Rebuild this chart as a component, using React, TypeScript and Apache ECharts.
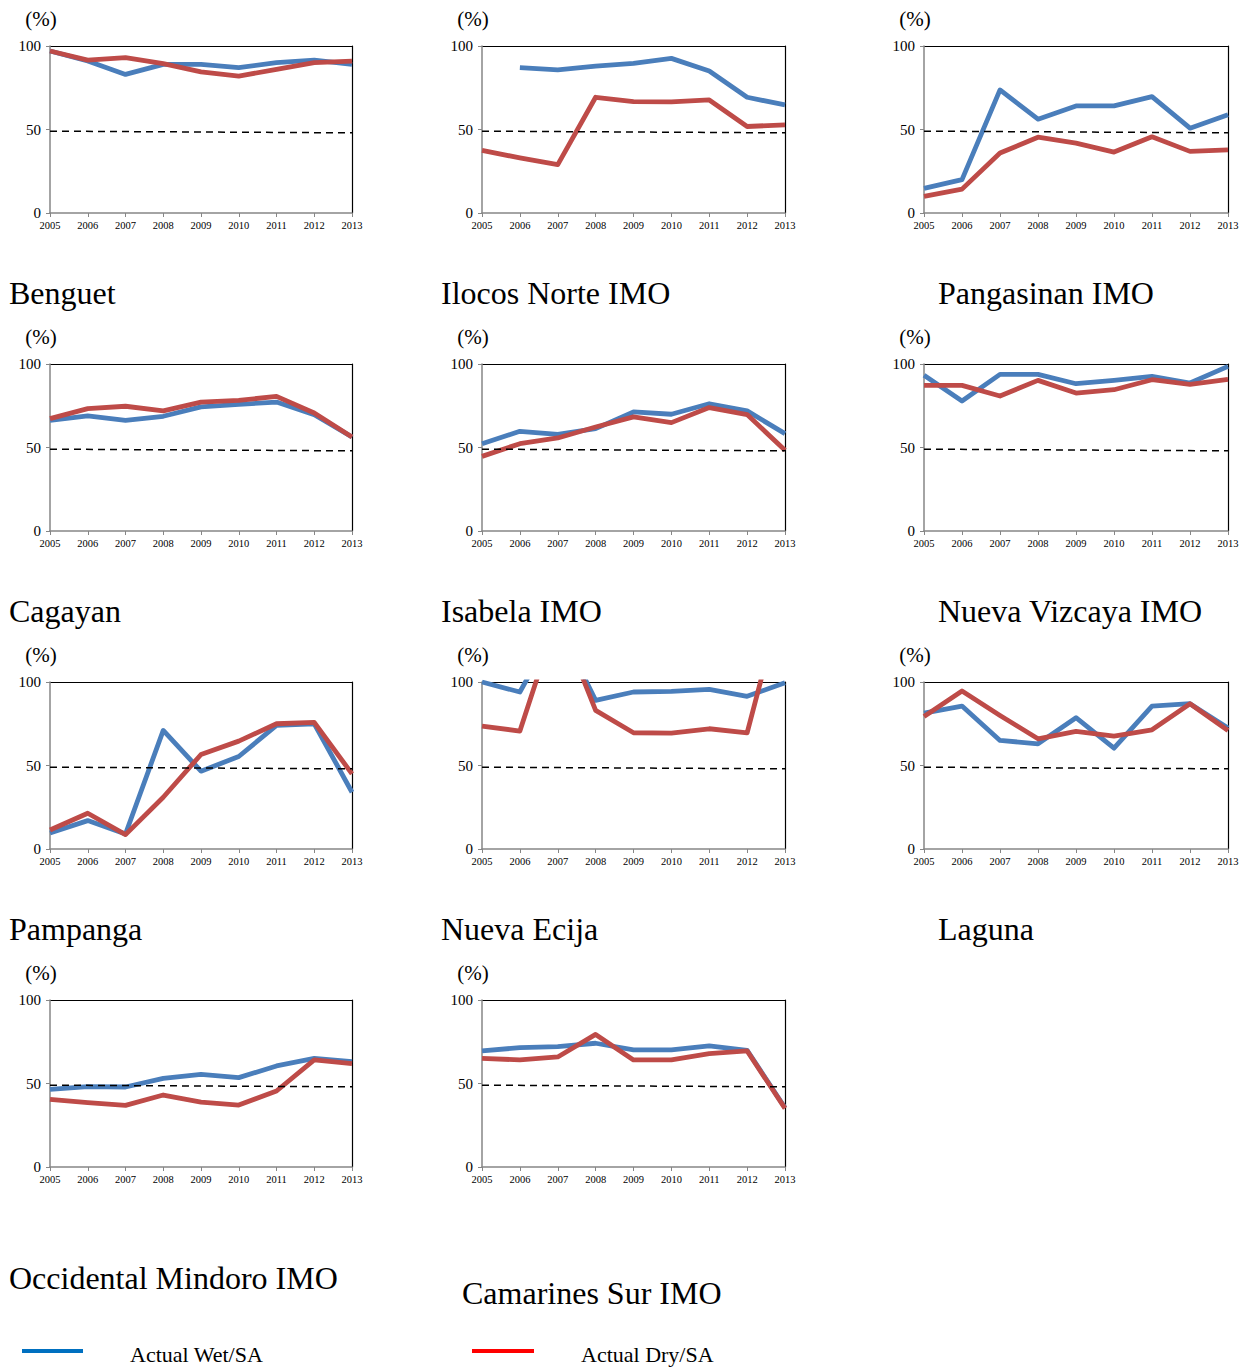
import React, { useEffect, useRef } from 'react';
import * as echarts from 'echarts';

const YEARS = ['2005', '2006', '2007', '2008', '2009', '2010', '2011', '2012', '2013'];
const Y_MIN = 0;
const Y_MAX = 100;
const Y_STEP = 50;
const TARGET_START = 49;
const TARGET_END = 48;
const UNIT_LABEL = '(%)';
const LEGEND_WET = 'Actual Wet/SA';
const LEGEND_DRY = 'Actual Dry/SA';

const PANEL_NAMES = [
  'Benguet',
  'Ilocos Norte IMO',
  'Pangasinan IMO',
  'Cagayan',
  'Isabela IMO',
  'Nueva Vizcaya IMO',
  'Pampanga',
  'Nueva Ecija',
  'Laguna',
  'Occidental Mindoro IMO',
  'Camarines Sur IMO',
];

const benguetWet = [97, 91, 83, 89, 89, 87, 90, 91.5, 89];
const benguetDry = [97, 91.5, 93, 89.5, 84.5, 82, 86, 90, 91];
const ilocosWet = [null, 87, 85.7, 88, 89.6, 92.6, 85, 69.3, 64.7];
const ilocosDry = [37.5, 33, 29, 69.3, 66.7, 66.5, 67.7, 51.8, 52.8];
const pangasinanWet = [14.7, 20, 73.7, 56.2, 64.1, 64.1, 69.7, 50.8, 58.8];
const pangasinanDry = [10, 14.3, 35.9, 45.4, 41.8, 36.5, 45.6, 36.9, 37.8];
const cagayanWet = [66.3, 68.9, 66.3, 68.7, 74.3, 75.8, 77.2, 69.7, 56.3];
const cagayanDry = [67.3, 73.3, 74.7, 71.9, 77.2, 78.2, 80.6, 70.7, 56.3];
const isabelaWet = [52.3, 59.7, 57.9, 61.3, 71.3, 69.9, 76.2, 71.9, 58.3];
const isabelaDry = [44.7, 52.3, 55.7, 62.3, 68.3, 64.9, 73.9, 69.7, 48.3];
const vizcayaWet = [93.2, 77.8, 93.8, 93.8, 88.2, 90.2, 92.6, 88.6, 98.6];
const vizcayaDry = [87.2, 87.2, 80.8, 90.2, 82.6, 84.6, 90.6, 87.8, 90.8];
const pampangaWet = [9.6, 17, 9, 71, 46.6, 55.4, 74, 75, 34];
const pampangaDry = [11.4, 21.4, 8.6, 31, 56.6, 64.6, 75, 75.8, 45];
const ecijaWet = [100, 94, 135, 89, 94, 94.4, 95.6, 91.4, 99.6];
const ecijaDry = [73.6, 70.6, 140, 83, 69.6, 69.4, 72, 69.6, 156];
const lagunaWet = [81.4, 85.6, 65, 63, 78.6, 60.4, 85.6, 87, 72.4];
const lagunaDry = [79.4, 94.6, 80, 66, 70.4, 67.6, 71.4, 87, 71];
const mindoroWet = [46.5, 48.1, 47.9, 53.1, 55.5, 53.5, 60.5, 65.1, 63.1];
const mindoroDry = [40.5, 38.5, 36.9, 43.1, 38.9, 37.1, 45.5, 64.1, 61.9];
const camarinesWet = [69.5, 71.5, 72.1, 74.1, 70.1, 70.1, 72.5, 69.9, 35.5];
const camarinesDry = [65.1, 64.1, 65.9, 79.4, 64.1, 64.1, 67.9, 69.5, 35.1];

const WET = [benguetWet, ilocosWet, pangasinanWet, cagayanWet, isabelaWet, vizcayaWet, pampangaWet, ecijaWet, lagunaWet, mindoroWet, camarinesWet];
const DRY = [benguetDry, ilocosDry, pangasinanDry, cagayanDry, isabelaDry, vizcayaDry, pampangaDry, ecijaDry, lagunaDry, mindoroDry, camarinesDry];

// layout
const COL_LEFT = [50, 482, 924];
const COL_WIDTH = [302, 303, 304];
const ROW_TOP = [46, 364, 682, 1000];
const GRID_H = 167;
const TITLE_POS = [
  [9, 293], [441, 293], [938, 293],
  [9, 611], [441, 611], [938, 611],
  [9, 929], [441, 929], [938, 929],
  [9, 1278], [462, 1293],
];

const FONT = '"Liberation Serif", "Times New Roman", Times, serif';
const BLUE = '#4A7EBB';
const RED = '#BE4B48';
const AXIS_GRAY = '#868686';

export default function App() {
  const ref = useRef<HTMLDivElement>(null);

  useEffect(() => {
    if (!ref.current) return;
    const chart = echarts.init(ref.current, null, { renderer: 'svg' });

    const grids: any[] = [];
    const xAxes: any[] = [];
    const yAxes: any[] = [];
    const series: any[] = [];
    const graphics: any[] = [];

    PANEL_NAMES.forEach((name, i) => {
      const col = i % 3;
      const row = Math.floor(i / 3);
      const left = COL_LEFT[col];
      const top = ROW_TOP[row];
      grids.push({ left, top, width: COL_WIDTH[col], height: GRID_H, containLabel: false });

      xAxes.push({
        gridIndex: i,
        type: 'category',
        data: YEARS,
        position: 'bottom',
        boundaryGap: false,
        axisLine: { show: true, onZero: false, lineStyle: { color: AXIS_GRAY, width: 1.5 } },
        axisTick: { show: true, length: 4, lineStyle: { color: AXIS_GRAY } },
        axisLabel: { interval: 0, fontSize: 10.5, fontFamily: FONT, color: '#000', margin: 7 },
        splitLine: { show: false },
        z: 3,
      });
      xAxes.push({
        gridIndex: i,
        type: 'category',
        data: YEARS,
        position: 'top',
        boundaryGap: false,
        axisLine: { show: true, onZero: false, lineStyle: { color: '#000', width: 1.2 } },
        axisTick: { show: false },
        axisLabel: { show: false },
        splitLine: { show: false },
        z: 1,
      });
      yAxes.push({
        gridIndex: i,
        type: 'value',
        min: Y_MIN,
        max: Y_MAX,
        interval: Y_STEP,
        position: 'left',
        axisLine: { show: true, onZero: false, lineStyle: { color: AXIS_GRAY, width: 1.5 } },
        axisTick: { show: true, length: 4, lineStyle: { color: AXIS_GRAY } },
        axisLabel: { fontSize: 15, fontFamily: FONT, color: '#000', margin: 9 },
        splitLine: { show: false },
        z: 3,
      });
      yAxes.push({
        gridIndex: i,
        type: 'value',
        min: Y_MIN,
        max: Y_MAX,
        interval: Y_STEP,
        position: 'right',
        axisLine: { show: true, onZero: false, lineStyle: { color: '#000', width: 1.2 } },
        axisTick: { show: false },
        axisLabel: { show: false },
        splitLine: { show: false },
        z: 1,
      });

      const xi = 2 * i;
      series.push({
        type: 'line',
        name: 'target-' + i,
        xAxisIndex: xi,
        yAxisIndex: xi,
        data: [],
        silent: true,
        markLine: {
          silent: true,
          symbol: ['none', 'none'],
          label: { show: false },
          lineStyle: { color: '#000', width: 1.5, type: [7, 5] },
          data: [[
            { coord: [YEARS[0], TARGET_START] },
            { coord: [YEARS[YEARS.length - 1], TARGET_END] },
          ]],
        },
      });
      series.push({
        type: 'line',
        name: LEGEND_WET,
        xAxisIndex: xi,
        yAxisIndex: xi,
        data: WET[i],
        symbol: 'none',
        clip: true,
        connectNulls: false,
        lineStyle: { color: BLUE, width: 4.8, join: 'round' },
        itemStyle: { color: BLUE },
      });
      series.push({
        type: 'line',
        name: LEGEND_DRY,
        xAxisIndex: xi,
        yAxisIndex: xi,
        data: DRY[i],
        symbol: 'none',
        clip: true,
        connectNulls: false,
        lineStyle: { color: RED, width: 4.8, join: 'round' },
        itemStyle: { color: RED },
      });

      graphics.push({
        type: 'text',
        x: left - 9,
        y: top - 27,
        style: { text: UNIT_LABEL, fontSize: 21, fontFamily: FONT, fill: '#000', align: 'center', verticalAlign: 'middle' },
      });
      graphics.push({
        type: 'text',
        x: TITLE_POS[i][0],
        y: TITLE_POS[i][1],
        style: { text: name, fontSize: 32, fontFamily: FONT, fill: '#000', align: 'left', verticalAlign: 'middle' },
      });
    });

    // legend
    graphics.push({ type: 'line', shape: { x1: 22, y1: 1351, x2: 83, y2: 1351 }, style: { stroke: '#0070C0', lineWidth: 4 } });
    graphics.push({ type: 'text', x: 130, y: 1354, style: { text: LEGEND_WET, fontSize: 22, fontFamily: FONT, fill: '#000', align: 'left', verticalAlign: 'middle' } });
    graphics.push({ type: 'line', shape: { x1: 472, y1: 1351, x2: 534, y2: 1351 }, style: { stroke: '#FF0000', lineWidth: 4 } });
    graphics.push({ type: 'text', x: 581, y: 1354, style: { text: LEGEND_DRY, fontSize: 22, fontFamily: FONT, fill: '#000', align: 'left', verticalAlign: 'middle' } });

    chart.setOption({
      animation: false,
      backgroundColor: '#fff',
      grid: grids,
      xAxis: xAxes,
      yAxis: yAxes,
      series,
      graphic: graphics,
    });

    return () => chart.dispose();
  }, []);

  return <div ref={ref} style={{ position: 'absolute', left: 0, top: 0, width: 1251, height: 1370 }} />;
}
